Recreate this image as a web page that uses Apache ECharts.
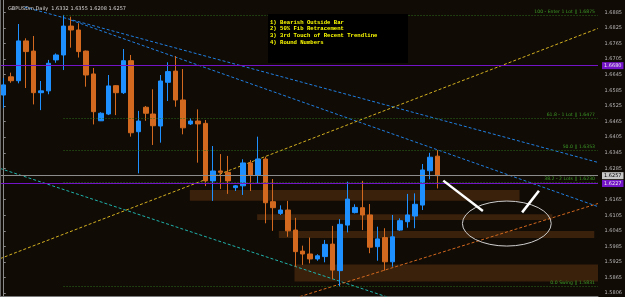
<!DOCTYPE html>
<html><head><meta charset="utf-8">
<script src="https://cdn.jsdelivr.net/npm/echarts@6/dist/echarts.min.js"></script>
<style>html,body{margin:0;padding:0;background:#110b06}#c{width:625px;height:297px}</style>
</head><body><div id="c"></div>
<script>
// ---------- data ----------
const symbolName = 'GBPUSDm,Daily';
const slotCount = 80;               // 59 daily bars + empty chart shift
const categories = Array.from({length: slotCount}, (_, i) => 'Bar ' + (i + 1));
const opens  = [1.6567,1.6637,1.6622,1.6775,1.6736,1.6576,1.6583,1.6702,1.6721,1.6832,
                1.6817,1.6736,1.6648,1.6468,1.6494,1.6603,1.6576,1.6699,1.6426,1.6520,
                1.6494,1.6448,1.6616,1.6659,1.6548,1.6456,1.6467,1.6458,1.6237,1.6275,
                1.6270,1.6211,1.6218,1.6306,1.6260,1.6321,1.6157,1.6112,1.6125,1.6048,
                1.5967,1.5956,1.5937,1.5946,1.5994,1.5892,1.6067,1.6115,1.6134,1.6106,
                1.5984,1.6019,1.5926,1.6048,1.6080,1.6102,1.6144,1.6276,1.6332];
const highs  = [1.6632,1.6653,1.6840,1.6785,1.6794,1.6621,1.6702,1.6727,1.6875,1.6868,
                1.6843,1.6738,1.6671,1.6501,1.6644,1.6605,1.6744,1.6721,1.6506,1.6525,
                1.6589,1.6644,1.6693,1.6717,1.6667,1.6478,1.6512,1.6471,1.6371,1.6340,
                1.6333,1.6221,1.6320,1.6317,1.6407,1.6330,1.6244,1.6143,1.6160,1.6095,
                1.5988,1.6019,1.5955,1.6010,1.6064,1.6090,1.6234,1.6147,1.6237,1.6148,
                1.6061,1.6055,1.6106,1.6093,1.6187,1.6189,1.6302,1.6345,1.6355];
const lows   = [1.6517,1.6614,1.6612,1.6594,1.6531,1.6509,1.6570,1.6691,1.6663,1.6749,
                1.6711,1.6599,1.6454,1.6467,1.6490,1.6490,1.6571,1.6407,1.6266,1.6468,
                1.6375,1.6384,1.6544,1.6522,1.6416,1.6452,1.6307,1.6217,1.6160,1.6206,
                1.6187,1.6198,1.6183,1.6198,1.6225,1.6074,1.6045,1.6106,1.6022,1.5907,
                1.5914,1.5920,1.5930,1.5924,1.5859,1.5831,1.6039,1.6112,1.6048,1.5959,
                1.5930,1.5892,1.5907,1.6045,1.6057,1.6055,1.6125,1.6243,1.6208];
const closes = [1.6606,1.6622,1.6775,1.6734,1.6576,1.6583,1.6689,1.6721,1.6832,1.6817,
                1.6734,1.6644,1.6503,1.6497,1.6602,1.6576,1.6699,1.6422,1.6467,1.6497,
                1.6449,1.6621,1.6657,1.6548,1.6441,1.6467,1.6456,1.6237,1.6275,1.6270,
                1.6237,1.6218,1.6306,1.6260,1.6321,1.6153,1.6134,1.6125,1.6045,1.5965,
                1.5956,1.5937,1.5949,1.5993,1.5894,1.6070,1.6167,1.6135,1.6106,1.5982,
                1.6014,1.5926,1.6022,1.6084,1.6106,1.6147,1.6279,1.6328,1.6257];

const priceTicks = [1.6885,1.6825,1.6765,1.6705,1.6645,1.6585,1.6525,1.6465,1.6405,1.6345,
                    1.6285,1.6165,1.6105,1.6045,1.5985,1.5925,1.5865,1.5806];
const priceMin = 1.57945, priceMax = 1.69323;

const fibStart = 8;
const fibLevels = [1.6875, 1.6477, 1.6353, 1.6230, 1.5831];
const fibNames  = ['100 - Enter 1 Lot', '61.8 - 1 Lot', '50.0', '38.2 - 2 Lots', '0.0 Swing'];

const roundLevels = [1.6680, 1.6227];          // purple horizontal lines
const lastPrice = closes[closes.length - 1];    // grey bid line

// trend lines: [barIndex, price] endpoints
const trendBlueA  = [[2.8, 1.6905], [79.5, 1.6308]];
const trendBlueB  = [[9.0, 1.6855], [79.5, 1.6138]];
const trendYellow = [[-0.5, 1.5938], [79.5, 1.6823]];
const trendCyan   = [[-0.5, 1.6285], [52.0, 1.5784]];
const trendOrange = [[39.6, 1.5792], [79.5, 1.6150]];

// support/resistance zones: [fromBar, toBar, lowPrice, highPrice]
const zones = [[24.9, 69.0, 1.6161, 1.6202],
               [33.9, 73.4, 1.6087, 1.6109],
               [36.8, 79.0, 1.6017, 1.6044],
               [38.9, 79.5, 1.5850, 1.5916]];
// target ellipse: [centerBar, centerPrice, radiusBars, radiusPrice]
const ellipses = [[67.3, 1.6073, 5.94, 0.00865]];
// white pointer strokes
const pointers = [[[58.8, 1.6238], [64.1, 1.6121]],
                  [[71.6, 1.6199], [69.35, 1.6116]]];

const notes = ['1) Bearish Outside Bar', '2) 50% Fib Retracement',
               '3) 3rd Touch of Recent Trendline', '4) Round Numbers'];

// ---------- chart ----------
const fmt = v => v.toFixed(4);
const candleData = opens.map((o, i) => [o, closes[i], lows[i], highs[i]]);
const dash = {type: [3, 2]};

function trend(data, color) {
  return {type: 'line', xAxisIndex: 1, yAxisIndex: 0, data, symbol: 'none', silent: true,
          z: 2, clip: true, animation: false,
          lineStyle: {color, width: 1, type: [3, 2]}};
}

const chart = echarts.init(document.getElementById('c'));
chart.setOption({
  backgroundColor: '#110b06',
  animation: false,
  title: {
    text: symbolName + '  ' + [opens, highs, lows, closes].map(a => fmt(a[a.length - 1])).join(' '),
    left: 3, top: 1,
    textStyle: {fontSize: 5, color: '#d8d8d8', fontWeight: 'normal', fontFamily: 'DejaVu Sans'}
  },
  grid: {left: -2.1, right: 21.5, top: 0, bottom: 1, containLabel: false},
  xAxis: [
    {type: 'category', data: categories, boundaryGap: true,
     axisLine: {show: true, lineStyle: {color: '#7a7a7a'}}, axisTick: {show: false},
     axisLabel: {show: false}, splitLine: {show: false}},
    {type: 'value', min: -0.5, max: slotCount - 0.5, show: false}
  ],
  yAxis: {
    type: 'value', position: 'right', offset: 3.5, min: priceMin, max: priceMax, scale: true,
    axisLine: {show: true, lineStyle: {color: '#8a8a8a'}},
    axisTick: {show: true, length: 2, customValues: priceTicks, lineStyle: {color: '#8a8a8a'}},
    axisLabel: {customValues: priceTicks, formatter: v => fmt(v), fontSize: 5, color: '#b8b8b8',
                margin: 3, fontFamily: 'DejaVu Sans'},
    splitLine: {show: false}
  },
  graphic: [
    {type: 'line', shape: {x1: 0.5, y1: 0, x2: 0.5, y2: 296}, style: {stroke: '#6a6a6a', lineWidth: 1}, z: 100},
    {type: 'rect', shape: {x: 268, y: 14, width: 140, height: 49}, style: {fill: '#000'}, z: 100},
    {type: 'text', left: 270, top: 19, z: 101,
     style: {text: notes.join('\n'), fill: '#ffff00', font: 'bold 5.6px "Liberation Mono"', lineHeight: 6.7}}
  ],
  series: [
    {type: 'custom', name: 'zones', xAxisIndex: 1, yAxisIndex: 0, z: 1, silent: true, clip: true,
     data: zones,
     encode: {x: [0, 1], y: [2, 3]},
     renderItem: (params, api) => {
       const a = api.coord([api.value(0), api.value(3)]);
       const b = api.coord([api.value(1), api.value(2)]);
       return {type: 'rect', shape: {x: a[0], y: a[1], width: b[0] - a[0], height: b[1] - a[1]},
               style: {fill: '#3a210c'}};
     }},
    trend(trendBlueA, '#1f7fe0'),
    trend(trendBlueB, '#1f7fe0'),
    trend(trendYellow, '#d2b020'),
    trend(trendCyan, '#1fb2aa'),
    trend(trendOrange, '#d2691e'),
    {type: 'line', name: 'levels', xAxisIndex: 1, yAxisIndex: 0, data: [], silent: true, z: 2,
     markLine: {
       silent: true, symbol: ['none', 'none'], animation: false,
       data: [
         ...fibLevels.map((v, i) => [
           {coord: [fibStart, v], lineStyle: {color: '#2b6e1a', type: [1, 2], width: 1},
            label: {show: true, position: 'insideEndTop', formatter: fibNames[i] + ' || ' + fmt(v),
                    color: '#3c9c26', fontSize: 4.6, distance: [3, 1], fontFamily: 'DejaVu Sans'}},
           {coord: [slotCount - 0.5, v]}]),
         [{coord: [-0.5, lastPrice], lineStyle: {color: '#8c8c8c', type: 'solid', width: 1},
           label: {show: true, position: 'end', formatter: fmt(lastPrice), color: '#000',
                   backgroundColor: '#c8c8c8', fontSize: 5, padding: [1, 2], distance: 4, fontFamily: 'DejaVu Sans'}},
          {coord: [slotCount - 0.5, lastPrice]}],
         ...roundLevels.map(v => [
           {coord: [-0.5, v], lineStyle: {color: '#7414c8', type: 'solid', width: 1},
            label: {show: true, position: 'end', formatter: fmt(v), color: '#e8e8e8',
                    backgroundColor: '#7414c8', fontSize: 5, padding: [1, 2], distance: 4, fontFamily: 'DejaVu Sans'}},
           {coord: [slotCount - 0.5, v]}])
       ]
     }},
    {type: 'candlestick', name: symbolName, xAxisIndex: 0, yAxisIndex: 0, data: candleData, z: 3,
     barWidth: 5, silent: true,
     itemStyle: {color: '#1e90ff', color0: '#d2691e', borderColor: '#1e90ff', borderColor0: '#d2691e', borderWidth: 1}},
    {type: 'custom', name: 'target', xAxisIndex: 1, yAxisIndex: 0, z: 4, silent: true,
     data: ellipses, encode: {x: 0, y: 1},
     renderItem: (params, api) => {
       const c = api.coord([api.value(0), api.value(1)]);
       const e = api.coord([api.value(0) + api.value(2), api.value(1) + api.value(3)]);
       const rx = e[0] - c[0], ry = c[1] - e[1];
       return {type: 'path',
               shape: {pathData: `M ${c[0]-rx} ${c[1]} A ${rx} ${ry} 0 1 0 ${c[0]+rx} ${c[1]} A ${rx} ${ry} 0 1 0 ${c[0]-rx} ${c[1]} Z`},
               style: {fill: 'none', stroke: '#cfcfcf', lineWidth: 1}};
     }},
    ...pointers.map(p => ({type: 'line', xAxisIndex: 1, yAxisIndex: 0, data: p, symbol: 'none',
       silent: true, z: 5, lineStyle: {color: '#ffffff', width: 2.5}}))
  ]
});
</script></body></html>
